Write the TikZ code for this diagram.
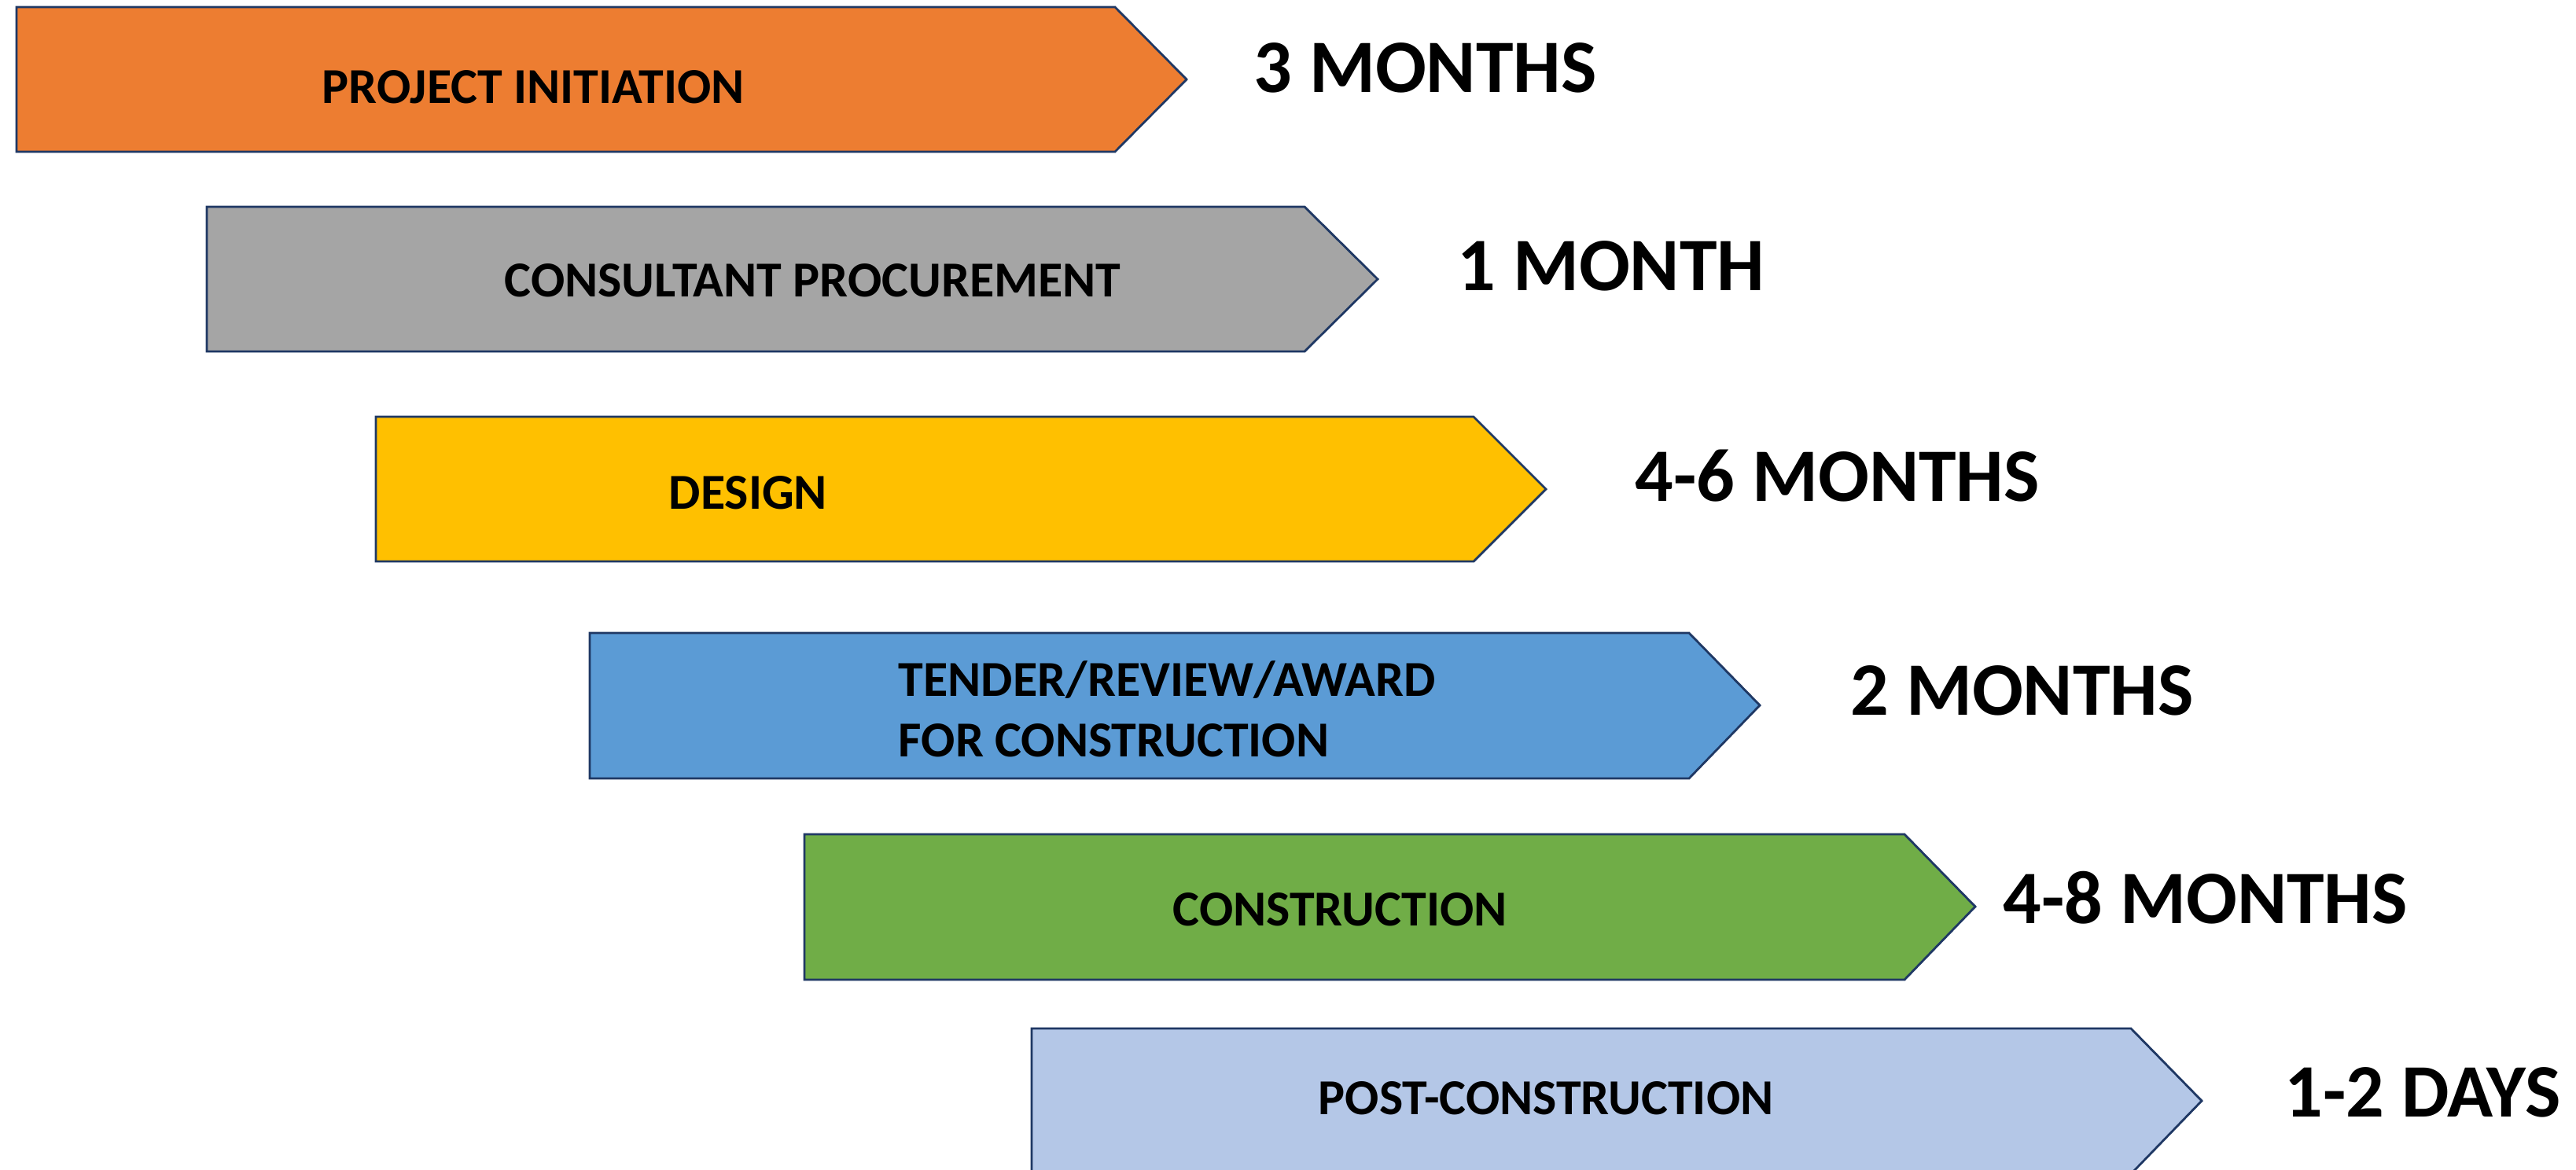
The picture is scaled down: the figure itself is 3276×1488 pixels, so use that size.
\documentclass[tikz,border=0pt]{standalone}
\usepackage{fontspec}
\setmainfont{Carlito}
\definecolor{cOrange}{HTML}{ED7D31}
\definecolor{cGray}{HTML}{A5A5A5}
\definecolor{cYellow}{HTML}{FFC000}
\definecolor{cBlue}{HTML}{5B9BD5}
\definecolor{cGreen}{HTML}{70AD47}
\definecolor{cLight}{HTML}{B4C7E7}
\definecolor{cEdge}{HTML}{1F3864}
\tikzset{
  chev/.style={draw=cEdge, line width=0.7pt, line join=miter},
  boxtext/.style={anchor=base west, inner sep=0pt, font=\bfseries\fontsize{16}{19}\selectfont, text=black},
  durtext/.style={anchor=base west, inner sep=0pt, font=\bfseries\fontsize{24}{28}\selectfont, text=black}
}
\begin{document}
\begin{tikzpicture}[x=0.25pt, y=-0.25pt]
\useasboundingbox (0,0) rectangle (3276,1488);
% chevrons: colour, left, top, bottom, tip start, tip, tip y
\newcommand{\chevron}[7]{%
  \draw[chev, fill=#1] (#2,#3) -- (#5,#3) -- (#6,#7) -- (#5,#4) -- (#2,#4) -- cycle;}
\chevron{cOrange}{21}{9}{193}{1418}{1509}{101}
\chevron{cGray}{263}{263}{447}{1659}{1752}{355}
\chevron{cYellow}{478}{530}{714}{1874}{1966}{622}
\chevron{cBlue}{750}{805}{990}{2148}{2238}{897}
\chevron{cGreen}{1023}{1061}{1246}{2422}{2512}{1153}
\chevron{cLight}{1312}{1308}{1493}{2710}{2800}{1400}

\node[boxtext] (t1) at (409,131) {PROJECT INITIATION};
\node[boxtext] (t2) at (641,377) {CONSULTANT PROCUREMENT};
\node[boxtext] (t3) at (850,647) {DESIGN};
\node[boxtext] (t4a) at (1142,885) {TENDER/REVIEW/AWARD};
\node[boxtext] (t4b) at (1142,962) {FOR CONSTRUCTION};
\node[boxtext] (t5) at (1491,1177) {CONSTRUCTION};
\node[boxtext] (t6) at (1676,1417) {POST-CONSTRUCTION};

\node[durtext] (d1) at (1594,117) {3 MONTHS};
\node[durtext] (d2) at (1853,369) {1 MONTH};
\node[durtext] (d3) at (2079,637) {4-6 MONTHS};
\node[durtext] (d4) at (2353,909) {2 MONTHS};
\node[durtext] (d5) at (2547,1174) {4-8 MONTHS};
\node[durtext] (d6) at (2905,1420) {1-2 DAYS};
\end{tikzpicture}
\end{document}
